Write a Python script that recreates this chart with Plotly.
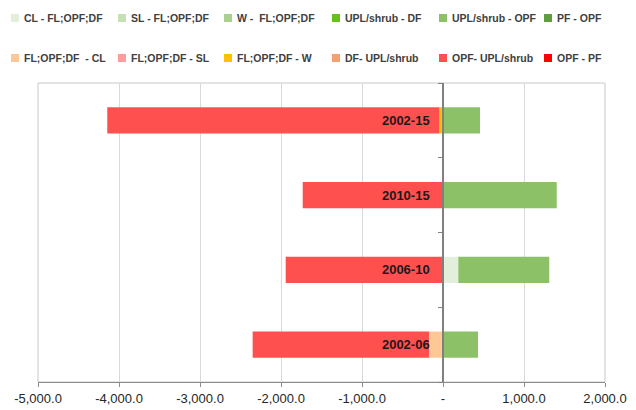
import plotly.graph_objects as go

categories = ["2002-06", "2006-10", "2010-15", "2002-15"]

series_names = [
    "CL - FL;OPF;DF", "SL - FL;OPF;DF", "W -  FL;OPF;DF", "UPL/shrub - DF", "UPL/shrub - OPF", "PF - OPF",
    "FL;OPF;DF  - CL", "FL;OPF;DF - SL", "FL;OPF;DF - W", "DF- UPL/shrub", "OPF- UPL/shrub", "OPF - PF",
]
series_colors = [
    "#e2efda", "#c6e0b4", "#a9d08e", "#66c21a", "#8cc168", "#5e9e3c",
    "#fdc896", "#ff9d9d", "#ffc000", "#f4a070", "#ff5050", "#ff0000",
]

cl_fl = [0, 189, 0, 0]
sl_fl = [0, 0, 0, 0]
w_fl = [0, 0, 0, 0]
upl_df = [0, 0, 0, 0]
upl_opf = [432, 1123, 1404, 457]
pf_opf = [0, 0, 0, 0]
fl_cl = [-173, 0, 0, 0]
fl_sl = [0, 0, 0, 0]
fl_w = [0, 0, 0, -45]
df_upl = [0, 0, 0, 0]
opf_upl = [-2177, -1942, -1732, -4100]
opf_pf = [0, 0, 0, 0]

series_values = [cl_fl, sl_fl, w_fl, upl_df, upl_opf, pf_opf,
                 fl_cl, fl_sl, fl_w, df_upl, opf_upl, opf_pf]

x_tickvals = [-5000, -4000, -3000, -2000, -1000, 0, 1000, 2000]
x_ticktext = ["-5,000.0", "-4,000.0", "-3,000.0", "-2,000.0", "-1,000.0", "-", "1,000.0", "2,000.0"]

# page body has an 8px default margin, so the figure is offset by 8px
OFF = 8
W, H = 636 - OFF, 410 - OFF
FONT = "Liberation Sans, Arial, sans-serif"

fig = go.Figure()
for name, color, vals in zip(series_names, series_colors, series_values):
    fig.add_trace(go.Bar(
        y=categories, x=vals, name=name, orientation="h",
        marker=dict(color=color, line=dict(width=0)),
        hoverinfo="x+name", showlegend=False,
    ))

ML, MT = 38 - OFF, 83 - OFF
MR = W - (605 - OFF)
MB = H - (382 - OFF)
pw, ph = W - ML - MR, H - MT - MB


def px_to_paper_x(px):
    return (px - OFF - ML) / pw


def px_to_paper_y(py):
    return (H - MB - (py - OFF)) / ph


col_px = [11, 118, 224, 332, 439, 544]
row_py = [18, 58]
SQ = 8
shapes = []
annotations = []
for i, (name, color) in enumerate(zip(series_names, series_colors)):
    cx = col_px[i % 6]
    cy = row_py[i // 6]
    shapes.append(dict(
        type="rect", xref="paper", yref="paper",
        x0=px_to_paper_x(cx), x1=px_to_paper_x(cx + SQ),
        y0=px_to_paper_y(cy + SQ / 2), y1=px_to_paper_y(cy - SQ / 2),
        fillcolor=color, line=dict(width=0),
    ))
    annotations.append(dict(
        xref="paper", yref="paper", x=px_to_paper_x(cx + SQ + 3), y=px_to_paper_y(cy),
        xanchor="left", yanchor="middle", showarrow=False, text=name,
        font=dict(family=FONT, size=10.5, color="#404040", weight="bold"),
    ))

shapes.append(dict(type="rect", xref="paper", yref="paper", x0=0, x1=1, y0=0, y1=1,
                   line=dict(color="#c8c8c8", width=1), layer="below"))

fig.update_layout(
    width=W, height=H,
    margin=dict(l=ML, r=MR, t=MT, b=MB),
    paper_bgcolor="white", plot_bgcolor="white",
    barmode="relative", bargap=0.65,
    showlegend=False,
    xaxis=dict(
        range=[-5000, 2000], tickvals=x_tickvals, ticktext=x_ticktext,
        showgrid=True, gridcolor="#d9d9d9", gridwidth=1,
        zeroline=False, showline=True, linecolor="#8c8c8c", linewidth=1,
        ticks="outside", ticklen=4, tickcolor="#8c8c8c",
        tickfont=dict(family=FONT, size=13, color="#262626"),
        fixedrange=True, automargin=False,
    ),
    yaxis=dict(
        type="category",
        categoryorder="array", categoryarray=categories,
        anchor="free", position=5 / 7, side="left",
        showline=True, linecolor="#808080", linewidth=1.5,
        ticks="outside", tickson="boundaries", ticklen=4, tickcolor="#808080",
        ticklabelstandoff=10,
        tickfont=dict(family=FONT, size=13, color="#1a1a1a", weight="bold"),
        showgrid=False, fixedrange=True, automargin=False,
    ),
    shapes=shapes,
    annotations=annotations,
)

fig.write_html("out.html")
